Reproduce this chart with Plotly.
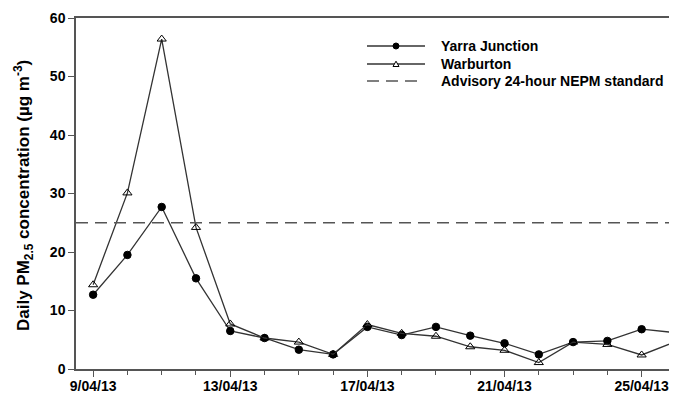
import plotly.graph_objects as go

dates = ["2013-04-%02d" % d for d in range(9, 27)]
yarra_junction = [12.7, 19.5, 27.7, 15.5, 6.5, 5.3, 3.3, 2.5, 7.2, 5.8, 7.2, 5.7, 4.4, 2.5, 4.6, 4.8, 6.8, 6.2]
warburton = [14.4, 30.1, 56.4, 24.2, 7.7, 5.3, 4.6, 2.5, 7.6, 6.1, 5.6, 3.8, 3.2, 1.1, 4.6, 4.2, 2.4, 4.7]
nepm_standard = 25
x_range = ["2013-04-08 12:00", "2013-04-26 00:45"]
y_range = [0, 60]
y_ticks = [0, 10, 20, 30, 40, 50, 60]
tick_labels_dates = ["2013-04-09", "2013-04-13", "2013-04-17", "2013-04-21", "2013-04-25"]
tick_labels = ["9/04/13", "13/04/13", "17/04/13", "21/04/13", "25/04/13"]
legend_names = ["Yarra Junction", "Warburton", "Advisory 24-hour NEPM standard"]

FONT = "Liberation Sans, Arial, sans-serif"
AX = "#555555"
OFF = 8  # default page body margin
W, H = 677 - OFF, 393 - OFF
# plot area in page pixels: left 76, top 18, right 677, bottom 369
ML, MR, MT, MB = 76 - OFF, 0, 18 - OFF, 393 - 369
PW, PH = W - ML - MR, H - MT - MB


def px_x(px):  # page pixel -> paper
    return (px - OFF - ML) / PW


def px_y(py):
    return (H - MB - (py - OFF)) / PH


fig = go.Figure()
fig.add_trace(go.Scatter(
    x=dates, y=yarra_junction, name=legend_names[0], mode="lines+markers",
    line=dict(color="#333333", width=1.3),
    marker=dict(symbol="circle", size=7.5, color="black", line=dict(color="black", width=1)),
))
fig.add_trace(go.Scatter(
    x=dates, y=warburton, name=legend_names[1], mode="lines+markers",
    line=dict(color="#333333", width=1.3),
    marker=dict(symbol="triangle-up-open", size=8, color="black", line=dict(color="black", width=1)),
))
fig.add_trace(go.Scatter(
    x=x_range, y=[nepm_standard, nepm_standard], name=legend_names[2],
    mode="lines", line=dict(color="#555555", width=1.5, dash="12px,7px"), hoverinfo="skip",
))

# manual legend (decoration)
rows_py = [46, 64, 81]
lx0, lx1, lmid, ltext = 367, 425, 396, 439
shapes = []
for i, py in enumerate(rows_py):
    dash = "solid" if i < 2 else "12px,7px"
    col = "#333333" if i < 2 else "#555555"
    x1 = lx1 if i < 2 else 422
    shapes.append(dict(type="line", xref="paper", yref="paper",
                       x0=px_x(lx0), x1=px_x(x1), y0=px_y(py), y1=px_y(py),
                       line=dict(color=col, width=1.3, dash=dash)))
shapes.append(dict(type="circle", xref="paper", yref="paper", xsizemode="pixel", ysizemode="pixel",
                   xanchor=px_x(lmid), yanchor=px_y(rows_py[0]), x0=-3, x1=3, y0=-3, y1=3,
                   fillcolor="black", line=dict(color="black", width=1)))
shapes.append(dict(type="path", xref="paper", yref="paper", xsizemode="pixel", ysizemode="pixel",
                   xanchor=px_x(lmid), yanchor=px_y(rows_py[1]),
                   path="M -3 -2.5 L 3 -2.5 L 0 2.8 Z",
                   fillcolor="white", line=dict(color="black", width=1)))

annotations = [dict(
    text="<b>Daily PM<sub>2.5</sub> concentration (µg m<sup>-3</sup>)</b>",
    xref="paper", yref="paper", x=px_x(23), y=px_y(196), xanchor="center", yanchor="middle",
    textangle=-90, showarrow=False, font=dict(size=17, family=FONT, color="black"),
)]
for name, py in zip(legend_names, rows_py):
    annotations.append(dict(text="<b>%s</b>" % name, xref="paper", yref="paper",
                            x=px_x(ltext), y=px_y(py), xanchor="left", yanchor="middle",
                            showarrow=False, font=dict(size=14, family=FONT, color="black")))

fig.update_layout(
    width=W, height=H,
    margin=dict(l=ML, r=MR, t=MT, b=MB),
    paper_bgcolor="white", plot_bgcolor="white",
    font=dict(family=FONT, color="black"),
    showlegend=False,
    shapes=shapes,
    annotations=annotations,
    xaxis=dict(
        type="date", range=x_range,
        tickmode="array", tickvals=tick_labels_dates,
        ticktext=["<b>%s</b>" % t for t in tick_labels],
        ticks="outside", ticklen=6, tickwidth=1, tickcolor=AX,
        minor=dict(dtick=86400000, tick0="2013-04-09", ticks="outside", ticklen=4, tickcolor=AX, showgrid=False),
        showline=True, linecolor=AX, linewidth=1.5, mirror=True,
        showgrid=False, zeroline=False, ticklabelstandoff=-3,
        tickfont=dict(size=14, family=FONT, color="black"),
    ),
    yaxis=dict(
        range=y_range, tickmode="array", tickvals=y_ticks,
        ticktext=["<b>%d</b>" % v for v in y_ticks],
        ticks="outside", ticklen=6, tickwidth=1, tickcolor=AX,
        showline=True, linecolor=AX, linewidth=1.5,
        showgrid=False, zeroline=False,
        tickfont=dict(size=14, family=FONT, color="black"),
    ),
)

fig.write_html("out.html")
